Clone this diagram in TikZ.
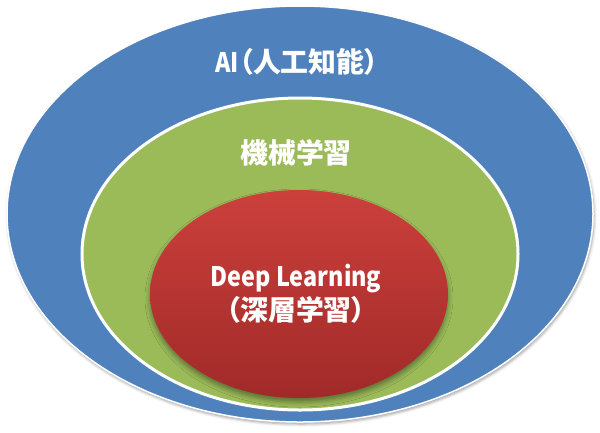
\documentclass[tikz,border=0pt]{standalone}
\usepackage{fontspec}
\newfontfamily\jpfont{Noto Sans CJK JP}[RawFeature=+palt]
\newfontfamily\lafont{Noto Sans CJK JP}[FakeStretch=0.87]
\usepackage{xcolor}
\usetikzlibrary{shapes.geometric, shadows.blur}

\definecolor{aiblue}{HTML}{4F81BD}
\definecolor{mlgreen}{HTML}{9BBB59}
\definecolor{dltop}{HTML}{CC403C}
\definecolor{dlbottom}{HTML}{A02A28}

\begin{document}
\begin{tikzpicture}[
    x=1bp, y=-1bp,
    every node/.style={inner sep=0pt, outer sep=0pt},
    ring/.style={ellipse, draw=white},
    lbl/.style={text=white, align=center, font=\jpfont\bfseries\fontsize{28}{34}\selectfont}
]
\useasboundingbox (0,0) rectangle (600,432);

% outer: AI
\node[ring, fill=aiblue, line width=1.5bp, minimum width=586bp, minimum height=416bp,
    blur shadow={shadow xshift=1bp, shadow yshift=-2bp, shadow blur radius=3bp}] (ai) at (300,214) {};

% middle: machine learning
\node[ring, fill=mlgreen, line width=3bp, minimum width=436bp, minimum height=312bp] (ml) at (300,254) {};

% inner: deep learning
\node[ellipse, top color=dltop, bottom color=dlbottom, minimum width=298bp, minimum height=208bp,
    blur shadow={shadow xshift=0bp, shadow yshift=-4bp, shadow blur radius=5bp}] (dl) at (299,294) {};

% labels
\node[lbl] (aitext) at (297,62) {{\lafont\bfseries\fontsize{27}{34}\selectfont AI}（人工知能）};
\node[lbl] (mltext) at (296,153) {機械学習};
\node[lbl] (dltext) at (296,294) {{\lafont\bfseries\fontsize{27}{34}\selectfont Deep Learning}\\（深層学習）};

\end{tikzpicture}
\end{document}
